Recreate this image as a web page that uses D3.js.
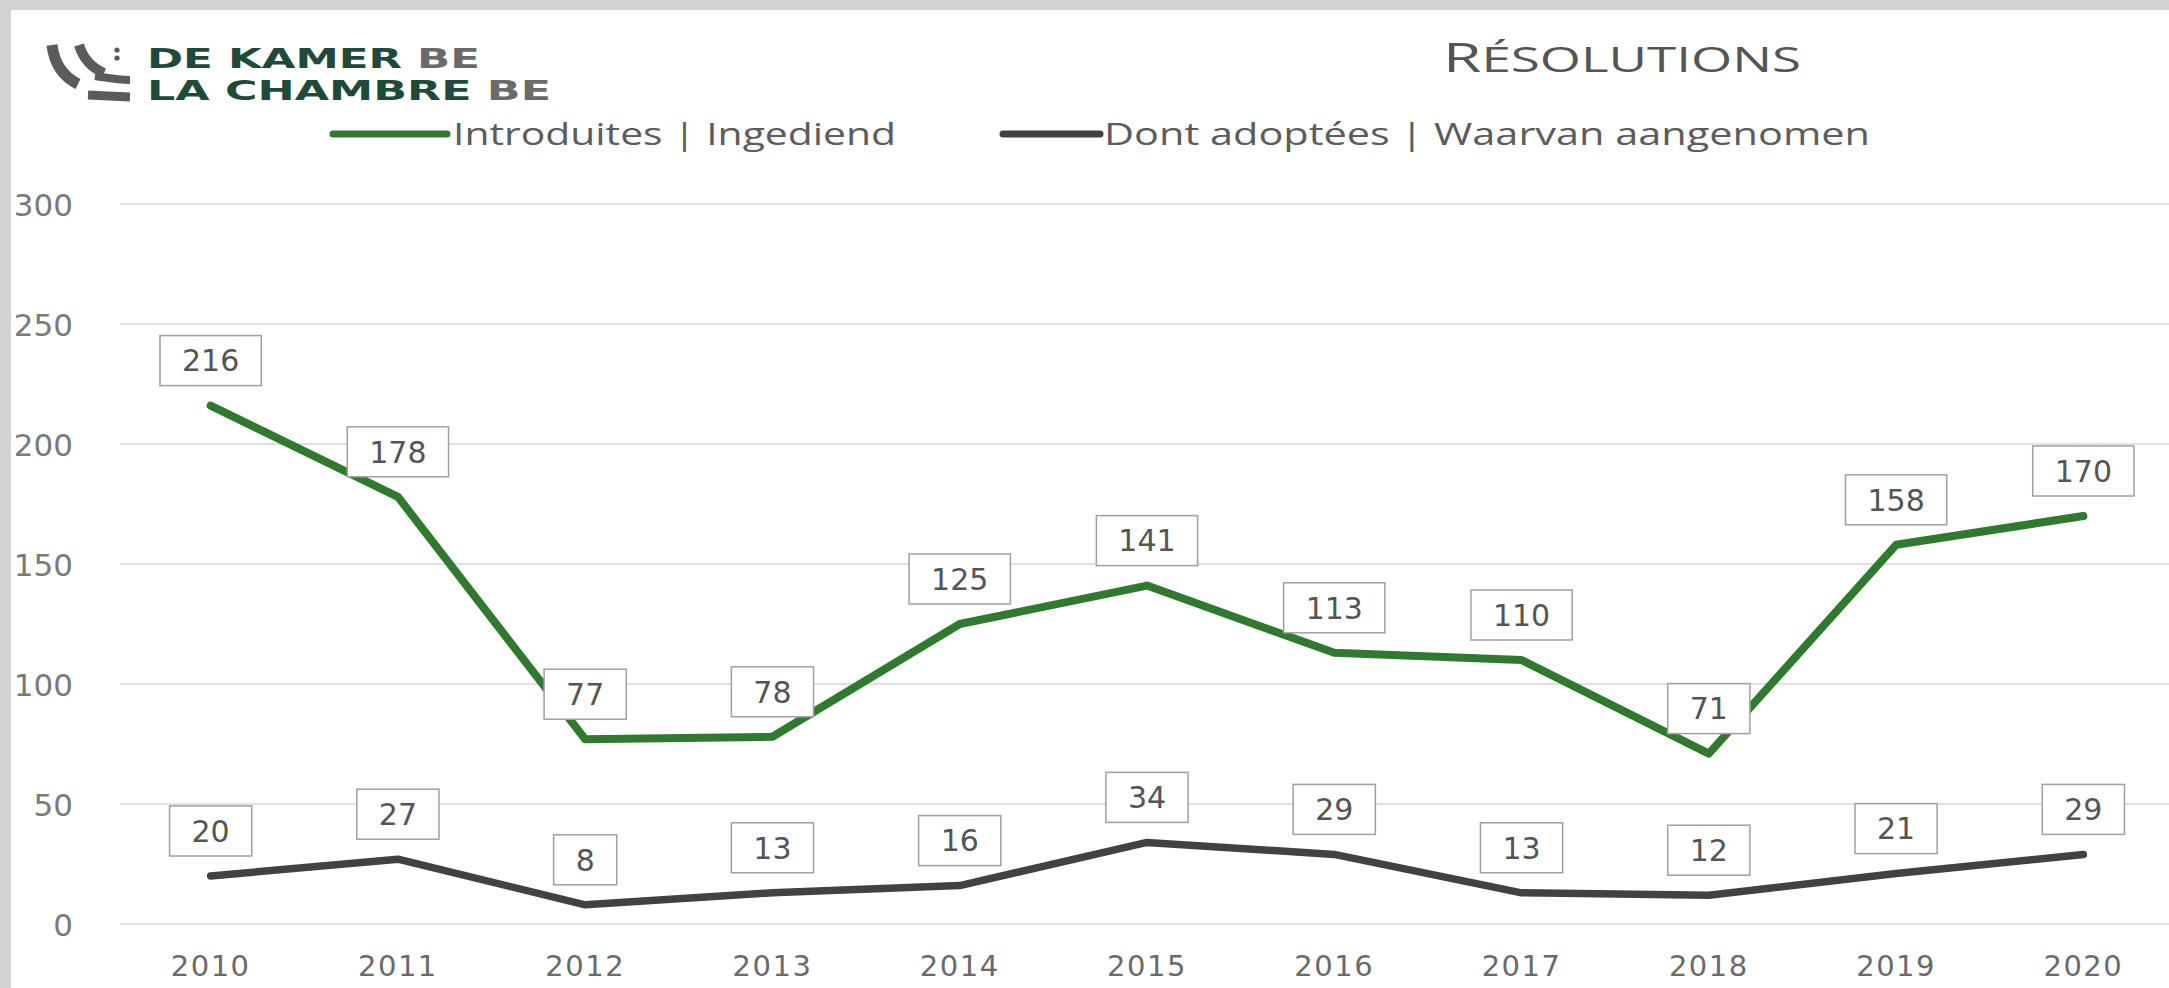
<!DOCTYPE html>
<html>
<head>
<meta charset="utf-8">
<script src="https://cdn.jsdelivr.net/npm/d3@7"></script>
<style>
  html, body { margin: 0; padding: 0; background: #ffffff; }
  svg { display: block; }
</style>
</head>
<body>
<svg id="chart" width="2169" height="988"></svg>
<script>
// Resolutions introduced and adopted per year
const years = ["2010", "2011", "2012", "2013", "2014", "2015", "2016", "2017", "2018", "2019", "2020"];
const introduced = [216, 178, 77, 78, 125, 141, 113, 110, 71, 158, 170];
const adopted = [20, 27, 8, 13, 16, 34, 29, 13, 12, 21, 29];
const yTicks = [0, 50, 100, 150, 200, 250, 300];
const seriesNames = ["Introduites | Ingediend", "Dont adoptées | Waarvan aangenomen"];
const seriesColors = ["#2f7a2f", "#424242"];
const titleText = "Résolutions";

const W = 2169, H = 988;
const svg = d3.select("#chart");

// page frame
svg.append("rect").attr("x", 0).attr("y", 0).attr("width", W).attr("height", H).attr("fill", "#ffffff");

const x = d3.scaleBand().domain(years).range([117, 2177]).paddingInner(0).paddingOuter(0);
const cx = d => x(d) + x.bandwidth() / 2;
const y = d3.scaleLinear().domain([0, 300]).range([924, 204]);

// gridlines
const plot = svg.append("g");
plot.selectAll("line.grid").data(yTicks).join("line")
  .attr("class", "grid")
  .attr("x1", 120).attr("x2", W)
  .attr("y1", d => y(d)).attr("y2", d => y(d))
  .attr("stroke", "#d6d6d6").attr("stroke-width", 1.6);

// y axis labels
const yAxis = d3.axisLeft(y).tickValues(yTicks).tickSize(0).tickPadding(0);
const yg = svg.append("g").attr("transform", "translate(73,0)").call(yAxis);
yg.select(".domain").remove();
yg.selectAll("text")
  .attr("font-family", "DejaVu Sans, sans-serif").attr("font-size", 31)
  .attr("fill", "#7a7a7a").attr("dy", "0.36em");

// x axis labels
const xAxis = d3.axisBottom(x).tickSize(0).tickPadding(0);
const xg = svg.append("g").attr("transform", "translate(0,966)").call(xAxis);
xg.select(".domain").remove();
xg.selectAll("text")
  .attr("font-family", "DejaVu Sans, sans-serif").attr("font-size", 29)
  .attr("fill", "#6a6a6a").attr("dy", "0.36em").attr("letter-spacing", 1.5);

// lines
const line = d3.line().x((d, i) => cx(years[i])).y(d => y(d));
const series = [introduced, adopted];
series.forEach((vals, si) => {
  plot.append("path").datum(vals)
    .attr("d", line)
    .attr("fill", "none")
    .attr("stroke", seriesColors[si])
    .attr("stroke-width", si === 0 ? 8 : 7.5)
    .attr("stroke-linejoin", "round")
    .attr("stroke-linecap", "round");
});

// value labels in boxes above each point
const labels = svg.append("g");
series.forEach(vals => {
  vals.forEach((v, i) => {
    const px = cx(years[i]);
    const py = y(v) - 45;
    const g = labels.append("g");
    const box = g.append("rect");
    const t = g.append("text")
      .attr("x", px).attr("y", py)
      .attr("text-anchor", "middle").attr("dy", "0.36em")
      .attr("font-family", "DejaVu Sans, sans-serif").attr("font-size", 30)
      .attr("fill", "#555555")
      .text(v);
    const tw = t.node().getComputedTextLength();
    const bw = tw + 44, bh = 50;
    box.attr("x", px - bw / 2).attr("y", py - bh / 2)
      .attr("width", bw).attr("height", bh)
      .attr("fill", "#ffffff").attr("stroke", "#a0a0a0").attr("stroke-width", 1.5);
  });
});

// legend
const legend = svg.append("g");
const legendItems = [
  { x1: 333, x2: 447, tx: 453, tw: 443 },
  { x1: 1003, x2: 1100, tx: 1104, tw: 766 }
];
legendItems.forEach((it, i) => {
  legend.append("line")
    .attr("x1", it.x1).attr("x2", it.x2).attr("y1", 134).attr("y2", 134)
    .attr("stroke", seriesColors[i]).attr("stroke-width", 7).attr("stroke-linecap", "round");
  legend.append("text")
    .attr("x", it.tx).attr("y", 134).attr("dy", "0.35em")
    .attr("font-family", "Open Sans, sans-serif").attr("font-size", 31)
    .attr("fill", "#5c5c5c")
    .attr("textLength", it.tw).attr("lengthAdjust", "spacingAndGlyphs")
    .text(seriesNames[i]);
});

// title in small capitals
const title = svg.append("text")
  .attr("x", 1443).attr("y", 72)
  .attr("font-family", "Open Sans, sans-serif").attr("fill", "#555555")
  .attr("textLength", 358).attr("lengthAdjust", "spacingAndGlyphs");
title.append("tspan").attr("font-size", 40).text(titleText.charAt(0).toUpperCase());
title.append("tspan").attr("font-size", 34).text(titleText.slice(1).toUpperCase());

// parliament logo
const logo = svg.append("g");
const icon = logo.append("g").attr("fill", "none").attr("stroke", "#5b5b5b").attr("stroke-linecap", "butt");
icon.append("path").attr("d", "M52,45 C54,62 62,76 78,84").attr("stroke-width", 11);
icon.append("path").attr("d", "M79,45 C83,58 92,68 104,73").attr("stroke-width", 10);
icon.append("path").attr("d", "M95,76 C108,78 118,80 130,80").attr("stroke-width", 8);
icon.append("path").attr("d", "M88,95 L130,97").attr("stroke-width", 9);
icon.append("circle").attr("cx", 117).attr("cy", 50).attr("r", 2.6).attr("fill", "#5b5b5b").attr("stroke", "none");
icon.append("circle").attr("cx", 117).attr("cy", 58).attr("r", 2.6).attr("fill", "#5b5b5b").attr("stroke", "none");

const logoLines = [
  { main: "DE KAMER ", suffix: "BE", y: 68, len: 333 },
  { main: "LA CHAMBRE ", suffix: "BE", y: 100, len: 404 }
];
logoLines.forEach(l => {
  const t = logo.append("text")
    .attr("x", 147).attr("y", l.y)
    .attr("font-family", "DejaVu Sans, sans-serif").attr("font-weight", "bold").attr("font-size", 27)
    .attr("textLength", l.len).attr("lengthAdjust", "spacingAndGlyphs");
  t.append("tspan").attr("fill", "#1f4a3a").text(l.main);
  t.append("tspan").attr("fill", "#6a6a6a").text(l.suffix);
});

// grey border strips along the top and left edges
svg.append("rect").attr("x", 0).attr("y", 0).attr("width", W).attr("height", 10).attr("fill", "#d2d2d2");
svg.append("rect").attr("x", 0).attr("y", 0).attr("width", 11).attr("height", H).attr("fill", "#d2d2d2");
</script>
</body>
</html>
